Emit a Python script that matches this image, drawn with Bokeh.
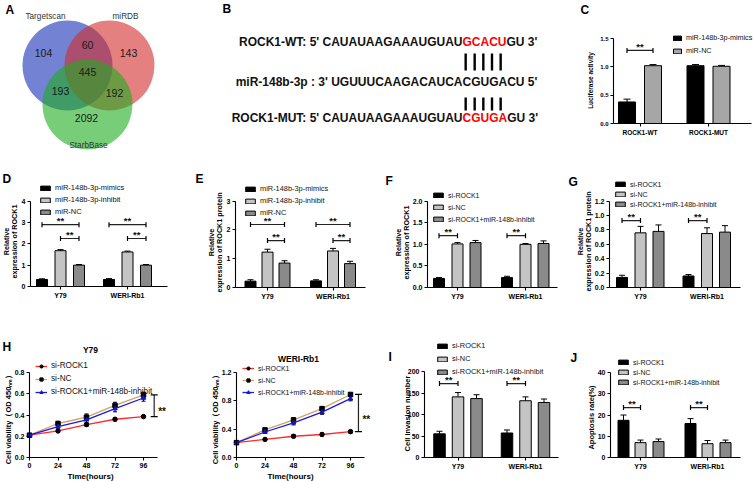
import math
from bokeh.plotting import figure
from bokeh.models import (Range1d, FixedTicker, Legend, LegendItem, Label, Whisker,
                          TeeHead, ColumnDataSource)
from bokeh.layouts import row, column
from bokeh.embed import file_html
from bokeh.resources import INLINE
from bokeh.core.properties import value

FONT = "Liberation Sans"

# ------------------------------------------------------------------ data
# A: Venn
venn_names = ["Targetscan", "miRDB", "StarbBase"]
venn_regions = ["T", "T&M", "M", "T&M&S", "T&S", "M&S", "S"]
venn_counts = [104, 60, 143, 445, 193, 192, 2092]

# B: binding sites
seq_prefix = ["ROCK1-WT: 5' CAUAUAAGAAAUGUAU", "miR-148b-3p : 3' UGUUUCAAGACAUCA",
              "ROCK1-MUT: 5' CAUAUAAGAAAUGUAU"]
seq_site = ["GCACU", "CGUGA", "CGUGA"]
seq_suffix = ["GU 3'", "CU 5'", "GU 3'"]
seq_site_color = ["#ff0000", "#111111", "#ff0000"]

# C: luciferase
c_cats = ["ROCK1-WT", "ROCK1-MUT"]
c_series = ["miR-148b-3p-mimics", "miR-NC"]
c_vals = [[0.38, 1.02], [1.02, 1.01]]
c_errs = [[0.05, 0.02], [0.02, 0.015]]
c_yticks = [0, 0.5, 1.0, 1.5]
c_yticklabels = ["0.0", "0.5", "1.0", "1.5"]
c_sig = [(0, 0, 1, 1.29)]          # (group, bar i, bar j, height)

cells = ["Y79", "WERI-Rb1"]
mir_series = ["miR-148b-3p-mimics", "miR-148b-3p-inhibit", "miR-NC"]
si_series = ["si-ROCK1", "si-NC", "si-ROCK1+miR-148b-inhibit"]

# D
d_vals = [[0.33, 0.33], [1.68, 1.62], [1.0, 1.0]]
d_errs = [[0.03, 0.04], [0.05, 0.04], [0.03, 0.03]]
d_yticks = [0, 1, 2, 3, 4]
d_yticklabels = ["0", "1", "2", "3", "4"]
d_sig = [(0, 0, 2, 2.9), (0, 1, 2, 2.25), (1, 0, 2, 2.9), (1, 1, 2, 2.25)]

# E
e_vals = [[0.22, 0.23], [1.23, 1.27], [0.85, 0.83]]
e_errs = [[0.05, 0.04], [0.10, 0.09], [0.08, 0.08]]
e_yticks = [0, 1, 2, 3]
e_yticklabels = ["0", "1", "2", "3"]
e_sig = [(0, 0, 2, 2.19), (0, 1, 2, 1.63), (1, 0, 2, 2.19), (1, 1, 2, 1.63)]

# F
f_vals = [[0.21, 0.23], [1.01, 1.00], [1.04, 1.02]]
f_errs = [[0.02, 0.03], [0.03, 0.02], [0.05, 0.06]]
f_yticks = [0, 0.5, 1.0, 1.5, 2.0]
f_yticklabels = ["0.0", "0.5", "1.0", "1.5", "2.0"]
f_sig = [(0, 0, 1, 1.2), (1, 0, 1, 1.2)]

# G
g_vals = [[0.14, 0.16], [0.76, 0.75], [0.78, 0.77]]
g_errs = [[0.03, 0.02], [0.09, 0.08], [0.09, 0.09]]
g_yticks = [0, 0.2, 0.4, 0.6, 0.8, 1.0, 1.2]
g_yticklabels = ["0.0", "0.2", "0.4", "0.6", "0.8", "1.0", "1.2"]
g_sig = [(0, 0, 1, 0.93), (1, 0, 1, 0.93)]

# H: CCK-8
times = [0, 24, 48, 72, 96]
time_labels = ["0", "24", "48", "72", "96"]
h_vals = [[0.21, 0.25, 0.31, 0.36, 0.385],
          [0.21, 0.32, 0.38, 0.49, 0.59],
          [0.21, 0.29, 0.355, 0.46, 0.56]]
h_errs = [[0.01, 0.015, 0.015, 0.015, 0.01],
          [0.01, 0.02, 0.03, 0.03, 0.025],
          [0.01, 0.02, 0.03, 0.03, 0.03]]
h_yticks = [0, 0.2, 0.4, 0.6, 0.8]
h_yticklabels = ["0.0", "0.2", "0.4", "0.6", "0.8"]
w_vals = [[0.21, 0.255, 0.30, 0.325, 0.365],
          [0.21, 0.39, 0.53, 0.69, 0.89],
          [0.21, 0.36, 0.49, 0.64, 0.83]]
w_errs = [[0.01, 0.015, 0.02, 0.02, 0.02],
          [0.01, 0.02, 0.03, 0.03, 0.02],
          [0.01, 0.02, 0.03, 0.03, 0.03]]
w_yticks = [0, 0.4, 0.8, 1.2]
w_yticklabels = ["0.0", "0.4", "0.8", "1.2"]
line_sig = (0, 1, 4)   # si-ROCK1 vs si-NC at 96 h

# I
i_vals = [[55, 57], [141, 132], [137, 128]]
i_errs = [[6, 7], [10, 9], [9, 8]]
i_yticks = [0, 50, 100, 150, 200]
i_yticklabels = ["0", "50", "100", "150", "200"]
i_sig = [(0, 0, 1, 172), (1, 0, 1, 172)]

# J
j_vals = [[17.5, 16.0], [7.0, 6.5], [7.5, 7.0]]
j_errs = [[2.5, 2.3], [1.2, 1.5], [1.2, 1.2]]
j_yticks = [0, 10, 20, 30, 40]
j_yticklabels = ["0", "10", "20", "30", "40"]
j_sig = [(0, 0, 1, 23.5), (1, 0, 1, 23.5)]

# ------------------------------------------------------------------ helpers
BLACK = "#000000"
LIGHT = "#c4c4c4"
DARK = "#8a8a8a"
LETTER_FS = 12


def new_fig(W, H, xr, yr, axes=True):
    kw = {} if axes else dict(x_axis_type=None, y_axis_type=None)
    p = figure(width=W, height=H, x_range=Range1d(*xr), y_range=Range1d(*yr),
               output_backend="svg", toolbar_location=None, min_border=0, **kw)
    p.outline_line_color = None
    p.grid.visible = False
    return p


def style_axes(p, tick_fs):
    for a in p.axis:
        a.axis_line_width = 1.1
        a.axis_line_color = BLACK
        a.major_tick_line_width = 1.1
        a.major_tick_line_color = BLACK
        a.major_tick_out = 3
        a.major_tick_in = 0
        a.minor_tick_out = 0
        a.minor_tick_in = 0
        a.major_label_text_font = FONT
        a.major_label_text_font_style = "bold"
        a.major_label_text_font_size = f"{tick_fs}px"
        a.major_label_text_color = BLACK
        a.major_label_standoff = 2


def flabel(p, box, text, X, Y, size, bold=True, angle=0.0, align="center",
           baseline="middle"):
    ox, oy, W, H = box
    p.add_layout(Label(x=X - ox, y=oy + H - Y, x_units="screen", y_units="screen",
                       text=text, text_font=FONT, text_font_size=f"{size}px",
                       text_font_style="bold" if bold else "normal", angle=angle,
                       text_align=align, text_baseline=baseline, text_color=BLACK))


def add_legend(p, box, items, left, first_c, step, fs, gw, gh, lh=8):
    ox, oy, W, H = box
    n = len(items)
    spacing = int(round(step - lh))
    top = first_c - lh / 2
    bottom = top + n * lh + (n - 1) * spacing
    leg = Legend(items=items, location=(left - ox, oy + H - bottom), padding=0, margin=0,
                 spacing=spacing, glyph_width=gw, glyph_height=gh, label_height=lh,
                 label_standoff=4, label_text_font=FONT, label_text_font_size=f"{fs}px",
                 label_text_color="#111111", border_line_color=None,
                 background_fill_alpha=0)
    p.add_layout(leg)


def bar_panel(cfg, names, vals, errs, colors, yticks, yticklabels, sig, cats):
    box = cfg["box"]
    ox, oy, W, H = box
    ax, xend, g1, g2 = cfg["ax"], cfg["xend"], cfg["g1"], cfg["g2"]
    y0, ytr, ytv = cfg["y0"], cfg["ytop_ref"], cfg["ytop_val"]
    ppx = g2 - g1
    ppy = (y0 - ytr) / ytv
    xr = ((ox - g1) / ppx, (ox + W - g1) / ppx)
    yr = ((y0 - (oy + H)) / ppy, (y0 - oy) / ppy)
    p = new_fig(W, H, xr, yr)
    style_axes(p, cfg["tick_fs"])
    xa = (ax - g1) / ppx
    p.yaxis.fixed_location = xa
    p.xaxis.fixed_location = 0
    p.xaxis.bounds = (xa, (xend - g1) / ppx)
    p.yaxis.bounds = (0, ytv)
    p.xaxis.ticker = FixedTicker(ticks=list(range(len(cats))))
    p.xaxis.major_label_overrides = {i: c for i, c in enumerate(cats)}
    p.xaxis.major_label_text_font_size = f"{cfg['xlab_fs']}px"
    p.yaxis.ticker = FixedTicker(ticks=yticks)
    p.yaxis.major_label_overrides = {t: l for t, l in zip(yticks, yticklabels)}
    offs = [o / ppx for o in cfg["offs"]]
    bw = cfg["bw"] / ppx
    items, xs_all = [], []
    for k, name in enumerate(names):
        xs = [g + offs[k] for g in range(len(cats))]
        xs_all.append(xs)
        src = ColumnDataSource(dict(x=xs, top=vals[k],
                                    upper=[v + e for v, e in zip(vals[k], errs[k])]))
        r = p.vbar(x="x", top="top", width=bw, source=src, fill_color=colors[k],
                   line_color=BLACK, line_width=1)
        p.add_layout(Whisker(source=src, base="x", upper="upper", lower="top",
                             dimension="height", line_width=1, line_color=BLACK,
                             upper_head=TeeHead(size=cfg["cap"], line_width=1),
                             lower_head=None))
        items.append(LegendItem(label=name, renderers=[r]))
    ssrc = ColumnDataSource(dict(
        base=[s[3] for s in sig],
        lo=[xs_all[s[1]][s[0]] for s in sig],
        hi=[xs_all[s[2]][s[0]] for s in sig],
        mid=[(xs_all[s[1]][s[0]] + xs_all[s[2]][s[0]]) / 2 for s in sig],
        t=["**"] * len(sig)))
    p.add_layout(Whisker(source=ssrc, base="base", lower="lo", upper="hi",
                         dimension="width", line_width=1.2, line_color="#222222",
                         upper_head=TeeHead(size=5, line_width=1.2),
                         lower_head=TeeHead(size=5, line_width=1.2)))
    p.text(x="mid", y="base", text="t", source=ssrc, text_font=value(FONT),
           text_font_size=value(f"{cfg['star_fs']}px"), text_font_style="bold",
           text_align="center", text_baseline="alphabetic", y_offset=-4,
           text_color="#111111")
    lg = cfg["legend"]
    add_legend(p, box, items, lg[0], lg[1], lg[2], lg[3], lg[4], lg[5])
    for (txt, X, Y, fs) in cfg["ylab"]:
        flabel(p, box, txt, X, Y, fs, angle=math.pi / 2)
    lt = cfg["letter"]
    flabel(p, box, lt[0], lt[1], lt[2], LETTER_FS, align="left")
    return p


def line_panel(cfg, names, vals, errs, colors, markers, mcolors, yticks, yticklabels, sig):
    box = cfg["box"]
    ox, oy, W, H = box
    ax, ppx = cfg["ax"], cfg["ppx"]
    y0, ytr, ytv = cfg["y0"], cfg["ytop_ref"], cfg["ytop_val"]
    ppy = (y0 - ytr) / ytv
    xr = ((ox - ax) / ppx, (ox + W - ax) / ppx)
    yr = ((y0 - (oy + H)) / ppy, (y0 - oy) / ppy)
    p = new_fig(W, H, xr, yr)
    style_axes(p, 7)
    p.yaxis.fixed_location = 0
    p.xaxis.fixed_location = 0
    p.xaxis.bounds = (0, cfg["xend_val"])
    p.yaxis.bounds = (0, ytv)
    p.xaxis.ticker = FixedTicker(ticks=times)
    p.xaxis.major_label_overrides = {t: l for t, l in zip(times, time_labels)}
    p.yaxis.ticker = FixedTicker(ticks=yticks)
    p.yaxis.major_label_overrides = {t: l for t, l in zip(yticks, yticklabels)}
    items = []
    for k, name in enumerate(names):
        src = ColumnDataSource(dict(x=times, y=vals[k],
                                    lo=[v - e for v, e in zip(vals[k], errs[k])],
                                    hi=[v + e for v, e in zip(vals[k], errs[k])]))
        lr = p.line("x", "y", source=src, line_color=colors[k], line_width=1.3)
        p.add_layout(Whisker(source=src, base="x", upper="hi", lower="lo",
                             dimension="height", line_width=1, line_color=BLACK,
                             upper_head=TeeHead(size=4, line_width=1),
                             lower_head=TeeHead(size=4, line_width=1)))
        sr = p.scatter("x", "y", source=src, marker=markers[k], size=4.5,
                       fill_color=mcolors[k], line_color=mcolors[k])
        items.append(LegendItem(label=name, renderers=[lr, sr]))
    i, j, idx = sig
    bsrc = ColumnDataSource(dict(base=[cfg["sig_x"]], lo=[vals[i][idx]], hi=[vals[j][idx]],
                                 mid=[(vals[i][idx] + vals[j][idx]) / 2], t=["**"]))
    p.add_layout(Whisker(source=bsrc, base="base", lower="lo", upper="hi",
                         dimension="height", line_width=1.2, line_color="#222222",
                         upper_head=TeeHead(size=7, line_width=1.2),
                         lower_head=TeeHead(size=7, line_width=1.2)))
    p.text(x="base", y="mid", text="t", source=bsrc, text_font=value(FONT),
           text_font_size=value("10px"), text_font_style="bold", text_align="left",
           text_baseline="alphabetic", x_offset=4, y_offset=6, text_color="#111111")
    lg = cfg["legend"]
    add_legend(p, box, items, lg[0], lg[1], lg[2], lg[3], 12, 8)
    flabel(p, box, cfg["title"][0], cfg["title"][1], cfg["title"][2], 8.5)
    flabel(p, box, cfg["ylab"][0], cfg["ylab"][1], cfg["ylab"][2], 7.5,
           angle=math.pi / 2)
    flabel(p, box, cfg["xlab"][0], cfg["xlab"][1], cfg["xlab"][2], 8)
    if cfg.get("letter"):
        lt = cfg["letter"]
        flabel(p, box, lt[0], lt[1], lt[2], LETTER_FS, align="left")
    return p


# ------------------------------------------------------------------ A: Venn
pa = new_fig(180, 165, (0, 180), (165, 0), axes=False)
venn_cx = [67, 109, 87]
venn_cy = [65, 65, 104]
venn_col = ["#162fb4", "#d22b2b", "#1eac1e"]
for k in range(3):
    pa.circle(x=[venn_cx[k]], y=[venn_cy[k]], radius=45, fill_color=venn_col[k],
              fill_alpha=0.6, line_color=None)
venn_pos_x = [43, 87, 128, 87, 60, 114, 86]
venn_pos_y = [52, 44, 52, 71, 90, 92, 117]
pa.text(x=venn_pos_x, y=venn_pos_y, text=[str(c) for c in venn_counts],
        text_font=value(FONT), text_font_size=value("10.5px"), text_align="center",
        text_baseline="middle", text_color="#1a1a1a")
pa.text(x=[45, 125, 88], y=[16, 16, 145], text=venn_names, text_font=value(FONT),
        text_font_size=value("8.2px"), text_align="center", text_baseline="middle",
        text_color="#333333")
pa.text(x=[5], y=[9.5], text=["A"], text_font=value(FONT),
        text_font_size=value(f"{LETTER_FS}px"), text_font_style="bold",
        text_align="left", text_baseline="middle")

# ------------------------------------------------------------------ B: sequences
pb = new_fig(395, 165, (180, 575), (165, 0), axes=False)
BFS = 12
adv = {"G": 0.778, "C": 0.722, "A": 0.722, "U": 0.722}
split_x = 462
line_y = [41, 81, 117]
site_w = [sum(adv[ch] for ch in s) * BFS for s in seq_site]
pb.text(x=[split_x] * 3, y=line_y, text=seq_prefix, text_font=value(FONT),
        text_font_size=value(f"{BFS}px"), text_font_style="bold", text_align="right",
        text_baseline="middle", text_color="#111111")
pb.text(x=[split_x] * 3, y=line_y, text=seq_site, text_font=value(FONT),
        text_font_size=value(f"{BFS}px"), text_font_style="bold", text_align="left",
        text_baseline="middle", text_color=seq_site_color)
pb.text(x=[split_x + w for w in site_w], y=line_y, text=seq_suffix, text_font=value(FONT),
        text_font_size=value(f"{BFS}px"), text_font_style="bold", text_align="left",
        text_baseline="middle", text_color="#111111")
centers, cum = [], 0.0
for ch in seq_site[0]:
    centers.append(split_x + (cum + adv[ch] / 2) * BFS - 1.5)
    cum += adv[ch]
pb.segment(x0=centers * 2, y0=[53] * 5 + [97] * 5, x1=centers * 2, y1=[70] * 5 + [110] * 5,
           line_color=BLACK, line_width=2.4)
pb.text(x=[222], y=[8], text=["B"], text_font=value(FONT),
        text_font_size=value(f"{LETTER_FS}px"), text_font_style="bold",
        text_align="left", text_baseline="middle")

# ------------------------------------------------------------------ C
pc = bar_panel(dict(box=(575, 0, 178, 165), ax=613, xend=751, g1=639.5, g2=708, y0=123,
                    ytop_ref=38, ytop_val=1.5, offs=[-13, 13], bw=17, tick_fs=6,
                    xlab_fs=6.5, cap=7, star_fs=9.5,
                    legend=(672, 39, 12, 7.2, 10, 6),
                    ylab=[("Luciferase activity", 590, 80, 6.5)],
                    letter=("C", 580, 9.5)),
               c_series, c_vals, c_errs, [BLACK, "#a6a6a6"], c_yticks, c_yticklabels,
               c_sig, c_cats)

# ------------------------------------------------------------------ D-G
pd = bar_panel(dict(box=(0, 165, 190, 153), ax=30, xend=167, g1=60, g2=127, y0=286,
                    ytop_ref=200.7, ytop_val=4, offs=[-18.5, 0, 18.5], bw=11, tick_fs=7,
                    xlab_fs=7, cap=6, star_fs=9.5,
                    legend=(39, 190, 11, 7.5, 12, 6),
                    ylab=[("Relative", 6, 241, 7.2), ("expression of ROCK1", 13.5, 241, 7.2)],
                    letter=("D", 2, 178)),
               mir_series, d_vals, d_errs, [BLACK, LIGHT, DARK], d_yticks, d_yticklabels,
               d_sig, cells)

pe = bar_panel(dict(box=(190, 165, 190, 153), ax=235, xend=365, g1=267, g2=332.5, y0=287,
                    ytop_ref=200.7, ytop_val=3, offs=[-17, 0, 17], bw=11, tick_fs=7,
                    xlab_fs=7, cap=6, star_fs=9.5,
                    legend=(244, 191, 11, 7.4, 12, 6),
                    ylab=[("Relative", 211, 242, 7.2),
                          ("expression of ROCK1 protein", 218.5, 242, 7.2)],
                    letter=("E", 195, 178)),
               mir_series, e_vals, e_errs, [BLACK, LIGHT, DARK], e_yticks, e_yticklabels,
               e_sig, cells)

pf = bar_panel(dict(box=(380, 165, 185, 153), ax=427, xend=557, g1=457, g2=525, y0=287,
                    ytop_ref=200.7, ytop_val=2, offs=[-18.5, 0, 18], bw=11, tick_fs=7,
                    xlab_fs=7, cap=6, star_fs=9.5,
                    legend=(432, 195, 11.5, 7, 12, 6),
                    ylab=[("Relative", 398, 242, 7.2), ("expression of ROCK1", 406, 242, 7.2)],
                    letter=("F", 385, 180)),
               si_series, f_vals, f_errs, [BLACK, LIGHT, DARK], f_yticks, f_yticklabels,
               f_sig, cells)

pg = bar_panel(dict(box=(565, 165, 188, 153), ax=609, xend=740, g1=640, g2=706.5, y0=287,
                    ytop_ref=200.7, ytop_val=1.2, offs=[-18.5, 0, 18], bw=11, tick_fs=7,
                    xlab_fs=7, cap=6, star_fs=9.5,
                    legend=(614, 184, 10.5, 7, 12, 6),
                    ylab=[("Relative", 580, 241, 7.2),
                          ("expression of ROCK1 protein", 588, 241, 7.2)],
                    letter=("G", 568, 181)),
               si_series, g_vals, g_errs, [BLACK, LIGHT, DARK], g_yticks, g_yticklabels,
               g_sig, cells)

# ------------------------------------------------------------------ H (two line panels)
line_colors = ["#ff2a2a", "#d4a15e", "#1a1ae6"]
line_markers = ["circle", "square", "triangle"]
marker_colors = [BLACK, BLACK, "#1414c8"]

ph = line_panel(dict(box=(0, 318, 190, 163), ax=29, ppx=114 / 96, xend_val=108, y0=457,
                     ytop_ref=372, ytop_val=0.8, sig_x=105,
                     legend=(35, 368, 11.5, 8.2),
                     title=("Y79", 90, 349), ylab=("Cell viability（OD 450ₙₘ）", 8, 417),
                     xlab=("Time(hours)", 90, 476), letter=("H", 2, 346)),
                si_series, h_vals, h_errs, line_colors, line_markers, marker_colors,
                h_yticks, h_yticklabels, line_sig)

pw = line_panel(dict(box=(190, 318, 195, 163), ax=236, ppx=114 / 96, xend_val=108, y0=457,
                     ytop_ref=372, ytop_val=1.2, sig_x=102.7,
                     legend=(242, 368, 11.5, 7),
                     title=("WERI-Rb1", 298, 358), ylab=("Cell viability（OD 450ₙₘ）", 215, 417),
                     xlab=("Time(hours)", 290, 476), letter=None),
                si_series, w_vals, w_errs, line_colors, line_markers, marker_colors,
                w_yticks, w_yticklabels, line_sig)

# ------------------------------------------------------------------ I, J
pi_ = bar_panel(dict(box=(385, 318, 180, 163), ax=424, xend=558, g1=457.5, g2=525, y0=457,
                     ytop_ref=371, ytop_val=200, offs=[-18.5, 0, 18.5], bw=11.5, tick_fs=7,
                     xlab_fs=7, cap=6, star_fs=9.5,
                     legend=(436, 348, 11.5, 7.4, 12, 6),
                     ylab=[("Cell invasion number", 407, 413, 7.5)],
                     letter=("I", 388, 356)),
                si_series, i_vals, i_errs, [BLACK, LIGHT, DARK], i_yticks, i_yticklabels,
                i_sig, cells)

pj = bar_panel(dict(box=(565, 318, 188, 163), ax=610, xend=740, g1=640, g2=707, y0=457,
                    ytop_ref=372, ytop_val=40, offs=[-17, 0, 18], bw=11, tick_fs=7,
                    xlab_fs=7, cap=6, star_fs=9.5,
                    legend=(617, 362, 10.5, 7, 12, 6),
                    ylab=[("Apoptosis rate(%)", 591, 417, 7.5)],
                    letter=("J", 570, 357)),
               si_series, j_vals, j_errs, [BLACK, LIGHT, DARK], j_yticks, j_yticklabels,
               j_sig, cells)

layout = column(row(pa, pb, pc), row(pd, pe, pf, pg), row(ph, pw, pi_, pj))
open("out.html", "w").write(file_html(layout, INLINE))
